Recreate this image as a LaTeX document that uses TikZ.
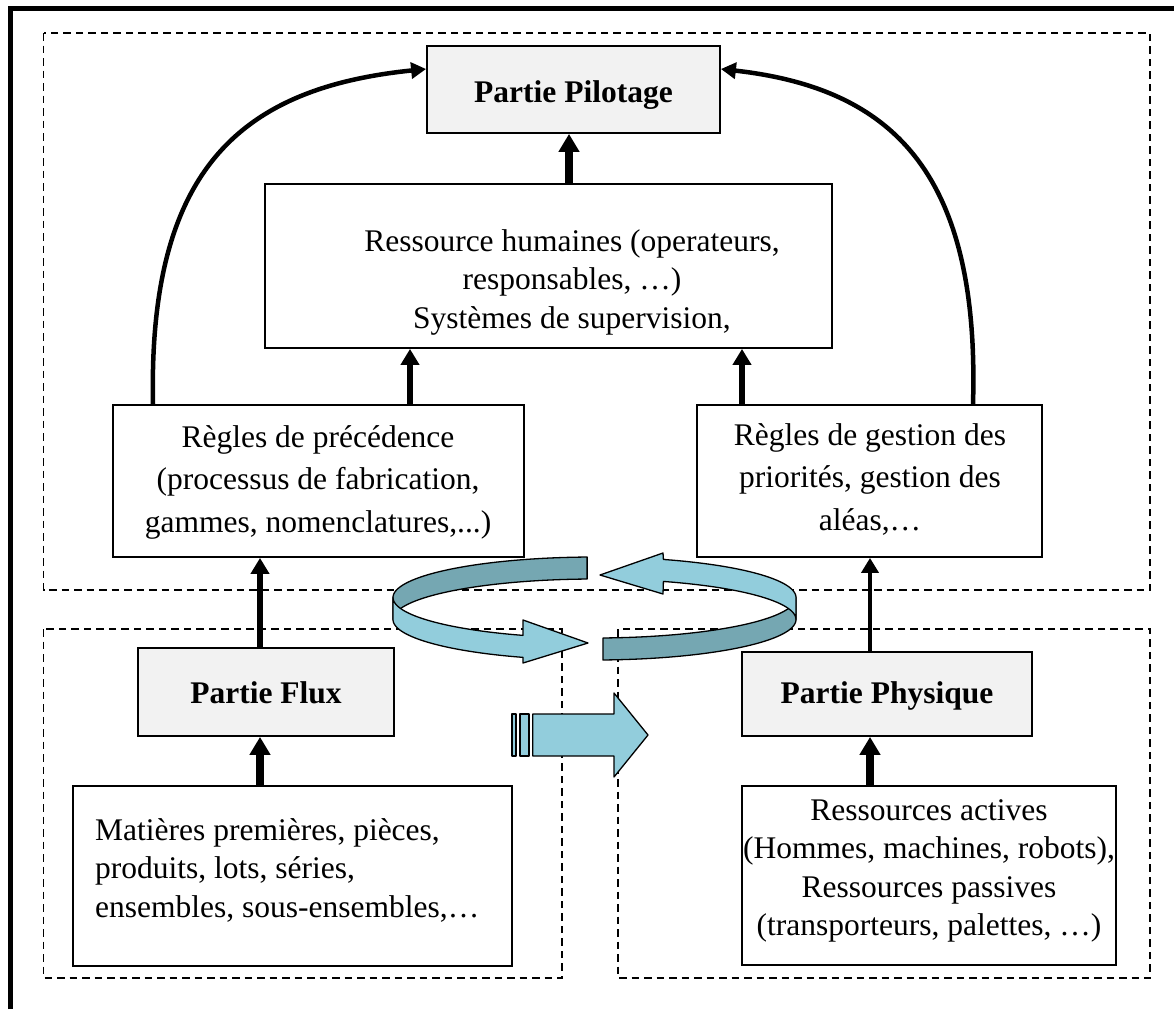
\documentclass[tikz,border=0pt]{standalone}
\usepackage{fontspec}
\setmainfont{Liberation Serif}
\usetikzlibrary{arrows.meta}

\definecolor{ribbonlight}{RGB}{146,205,220}
\definecolor{ribbondark}{RGB}{117,167,178}
\definecolor{boxgray}{RGB}{242,242,242}

% geometry of the circular ribbon (centre, radii, band height)
\def\rcx{594.5}
\def\rcy{597.5}
\def\rrx{201.5}
\def\rry{40.5}
\def\rh{22}

\begin{document}
\begin{tikzpicture}[x=1pt,y=-1pt,
  plainbox/.style={draw, line width=1.8pt, fill=white, inner sep=0pt},
  graybox/.style={plainbox, fill=boxgray},
  zone/.style={draw, line width=1.5pt, dash pattern=on 7.5pt off 5pt},
  txt/.style={font=\fontsize{31.5}{38.5}\selectfont, align=center, inner sep=0pt},
  txtwide/.style={font=\fontsize{31.5}{42.5}\selectfont, align=center, inner sep=0pt},
  bold/.style={font=\fontsize{31.5}{38.5}\selectfont\bfseries, inner sep=0pt},
  bigarrow/.style={line width=8pt, -{Triangle[length=18pt,width=20pt]}},
  midarrow/.style={line width=6.5pt, -{Triangle[length=16pt,width=18pt]}},
  thinarrow/.style={line width=3.8pt, -{Triangle[length=15pt,width=17pt]}},
  curvearrow/.style={line width=4.5pt, -{Triangle[length=15pt,width=16pt]}},
  ribbon/.style={draw=black, line width=1.3pt, line join=round},
]
\useasboundingbox (0,0) rectangle (1174,1009);

% outer frame (left and top edges)
\draw[line width=5pt] (10.8,1009) -- (10.8,8.5) -- (1174,8.5);

% dashed zones
\draw[zone] (43.5,33) rectangle (1150,590);
\draw[zone] (43.5,629) rectangle (562,978);
\draw[zone] (618,629) rectangle (1150,978);

% boxes
\node[graybox, minimum width=293pt, minimum height=87pt] (pilot) at (573.5,89.5) {};
\node[plainbox, minimum width=567pt, minimum height=164pt] (human) at (548.5,266) {};
\node[plainbox, minimum width=411pt, minimum height=152pt] (prec) at (318.5,481) {};
\node[plainbox, minimum width=345pt, minimum height=152pt] (gest) at (869.5,481) {};
\node[graybox, minimum width=256pt, minimum height=88pt] (flux) at (266,692) {};
\node[graybox, minimum width=290pt, minimum height=84pt] (phys) at (887,694) {};
\node[plainbox, minimum width=439pt, minimum height=180pt] (mat) at (292.5,876) {};
\node[plainbox, minimum width=374pt, minimum height=179pt] (res) at (929,875.5) {};

% texts (base anchor = baseline of the last line)
\node[bold, anchor=base] (pilotT) at (573.5,102.5) {Partie Pilotage};
\node[txt, anchor=base] (humanT) at (572,328) {Ressource humaines (operateurs,\\ responsables, …)\\ Systèmes de supervision,};
\node[txtwide, anchor=base] (precT) at (318,532) {Règles de précédence\\ (processus de fabrication,\\ gammes, nomenclatures,...)};
\node[txtwide, anchor=base] (gestT) at (870,530) {Règles de gestion des\\ priorités, gestion des\\ aléas,…};
\node[bold, anchor=base] (fluxT) at (266,703) {Partie Flux};
\node[bold, anchor=base] (physT) at (887,703) {Partie Physique};
\node[txt, anchor=base west, align=left] (matT) at (95,917) {Matières premières, pièces,\\ produits, lots, séries,\\ ensembles, sous-ensembles,…};
\node[txt, anchor=base] (resT) at (929,935.5) {Ressources actives\\ (Hommes, machines, robots),\\ Ressources passives\\ (transporteurs, palettes, …)};

% straight connectors
\draw[bigarrow] (human.north -| 569,0) -- (pilot.south -| 569,0);
\draw[midarrow] (prec.north -| 410,0) -- (human.south -| 410,0);
\draw[midarrow] (gest.north -| 742,0) -- (human.south -| 742,0);
\draw[midarrow] (flux.north -| 260,0) -- (prec.south -| 260,0);
\draw[thinarrow] (phys.north -| 870,0) -- (gest.south -| 870,0);
\draw[bigarrow] (mat.north -| 260,0) -- (flux.south -| 260,0);
\draw[bigarrow] (res.north -| 870,0) -- (phys.south -| 870,0);

% curved connectors to the top box
\draw[curvearrow] (prec.north -| 153,0) .. controls (148,170) and (240,88) .. (pilot.west |- 0,69);
\draw[curvearrow] (gest.north -| 973,0) .. controls (980,170) and (890,88) .. (pilot.east |- 0,69);

% circular ribbon: back/inner faces first, front faces over them
\fill[ribbondark, ribbon]
  plot[domain=267.9:180, samples=50, variable=\t] ({\rcx+\rrx*cos(\t)},{\rcy+\rry*sin(\t)})
  -- plot[domain=180:267.9, samples=50, variable=\t] ({\rcx+\rrx*cos(\t)},{\rcy+\rry*sin(\t)+\rh})
  -- cycle;
\fill[ribbondark, ribbon]
  plot[domain=87.6:0, samples=50, variable=\t] ({\rcx+\rrx*cos(\t)},{\rcy+\rry*sin(\t)})
  -- plot[domain=0:87.6, samples=50, variable=\t] ({\rcx+\rrx*cos(\t)},{\rcy+\rry*sin(\t)+\rh})
  -- cycle;
\fill[ribbonlight, ribbon]
  plot[domain=180:110.8, samples=50, variable=\t] ({\rcx+\rrx*cos(\t)},{\rcy+\rry*sin(\t)})
  -- (523,620) -- (588,643) -- (523,663)
  -- plot[domain=110.8:180, samples=50, variable=\t] ({\rcx+\rrx*cos(\t)},{\rcy+\rry*sin(\t)+\rh})
  -- cycle;
\fill[ribbonlight, ribbon]
  plot[domain=0:-70, samples=50, variable=\t] ({\rcx+\rrx*cos(\t)},{\rcy+\rry*sin(\t)})
  -- (663,553) -- (600,575) -- (663,594)
  -- plot[domain=-70:0, samples=50, variable=\t] ({\rcx+\rrx*cos(\t)},{\rcy+\rry*sin(\t)+\rh})
  -- cycle;

% striped block arrow between the two lower zones
\fill[ribbonlight, ribbon] (512,714) rectangle (516,756);
\fill[ribbonlight, ribbon] (520,714) rectangle (529,756);
\fill[ribbonlight, ribbon] (532.7,714) -- (614,714) -- (614,693) -- (648,735)
  -- (614,777) -- (614,756) -- (532.7,756) -- cycle;
\end{tikzpicture}
\end{document}
